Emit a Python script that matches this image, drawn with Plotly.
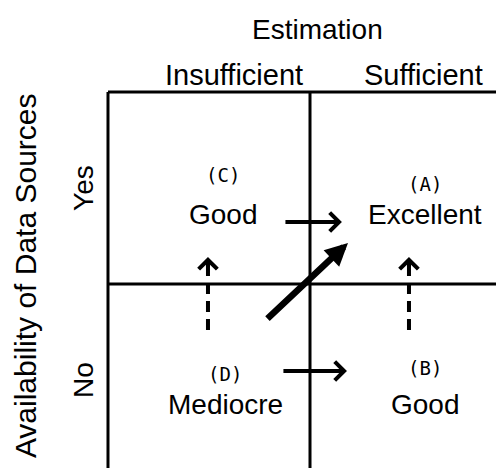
import plotly.graph_objects as go

# ---- data ----
col_labels = ["Insufficient", "Sufficient"]
col_label_x = [0.624, 1.564]
row_labels = ["No", "Yes"]
row_label_y = [0.5, 1.5]
x_title = "Estimation"
y_title = "Availability of Data Sources"

cell_letters = ["(C)", "(A)", "(D)", "(B)"]
cell_ratings = ["Good", "Excellent", "Mediocre", "Good"]
cell_x = [0.57, 1.57, 0.58, 1.57]
letter_y = [1.57, 1.52, 0.53, 0.56]
rating_y = [1.36, 1.36, 0.37, 0.37]

# solid arrows: (tail_x, tail_y, tip_x, tip_y)
solid_arrows = [(0.871, 1.323, 1.158, 1.323), (0.861, 0.547, 1.183, 0.547)]
diag_arrow = (0.782, 0.8125, 1.188, 1.214)
# dashed arrows: (x, tail_y, tip_y)
dashed_arrows = [(0.495, 0.76, 1.141), (1.490, 0.76, 1.141)]

X_RANGE = [-0.495, 2.0]
Y_RANGE = [0.0, 2.4375]

SANS = "Liberation Sans, Arial, sans-serif"
MONO = "DejaVu Sans Mono, monospace"

fig = go.Figure()
fig.add_trace(go.Scatter(x=[], y=[], showlegend=False))

LW = 3
# grid lines
fig.add_shape(type="line", x0=0, x1=2.2, y0=2, y1=2, line=dict(color="black", width=LW))
fig.add_shape(type="line", x0=0, x1=0, y0=-0.2, y1=2, line=dict(color="black", width=LW))
fig.add_shape(type="line", x0=1, x1=1, y0=-0.2, y1=2, line=dict(color="black", width=LW))
fig.add_shape(type="line", x0=0, x1=2.2, y0=1, y1=1, line=dict(color="black", width=LW))

ann = []
ann.append(dict(x=1.035, y=2.323, text=x_title, font=dict(family=SANS, size=28, color="black")))
for lab, xx in zip(col_labels, col_label_x):
    ann.append(dict(x=xx, y=2.089, text=lab, font=dict(family=SANS, size=29, color="black")))
ann.append(dict(x=-0.405, y=1.042, text=y_title, textangle=-90,
                font=dict(family=SANS, size=30, color="black")))
for lab, yy in zip(row_labels, row_label_y):
    ann.append(dict(x=-0.124, y=yy, text=lab, textangle=-90,
                    font=dict(family=SANS, size=28, color="black")))
for lt, rt, xx, ly, ry in zip(cell_letters, cell_ratings, cell_x, letter_y, rating_y):
    ann.append(dict(x=xx, y=ly, text=lt, font=dict(family=MONO, size=19, color="black")))
    ann.append(dict(x=xx, y=ry, text=rt, font=dict(family=SANS, size=28, color="black")))
for a in ann:
    a.update(xref="x", yref="y", showarrow=False)

for tx, ty, hx, hy in solid_arrows:
    ann.append(dict(x=hx, y=hy, ax=tx, ay=ty, xref="x", yref="y", axref="x", ayref="y",
                    text="", showarrow=True, arrowhead=4, arrowwidth=4, arrowsize=0.9,
                    arrowcolor="black", standoff=0, startstandoff=0))
tx, ty, hx, hy = diag_arrow
ann.append(dict(x=hx, y=hy, ax=tx, ay=ty, xref="x", yref="y", axref="x", ayref="y",
                text="", showarrow=True, arrowhead=2, arrowwidth=6.5, arrowsize=0.7,
                arrowcolor="black", standoff=0, startstandoff=0))
for xx, ty, hy in dashed_arrows:
    fig.add_shape(type="line", x0=xx, x1=xx, y0=ty, y1=hy - 0.04,
                  line=dict(color="black", width=4, dash="11px,7px"))
    ann.append(dict(x=xx, y=hy, ax=xx, ay=hy - 0.06, xref="x", yref="y", axref="x", ayref="y",
                    text="", showarrow=True, arrowhead=4, arrowwidth=4, arrowsize=0.9,
                    arrowcolor="black", standoff=0, startstandoff=0))

fig.update_layout(
    width=504, height=468,
    margin=dict(l=0, r=0, t=0, b=0),
    paper_bgcolor="white", plot_bgcolor="white",
    xaxis=dict(range=X_RANGE, visible=False, fixedrange=True),
    yaxis=dict(range=Y_RANGE, visible=False, fixedrange=True),
    annotations=ann,
    showlegend=False,
)
fig.write_html("out.html")
